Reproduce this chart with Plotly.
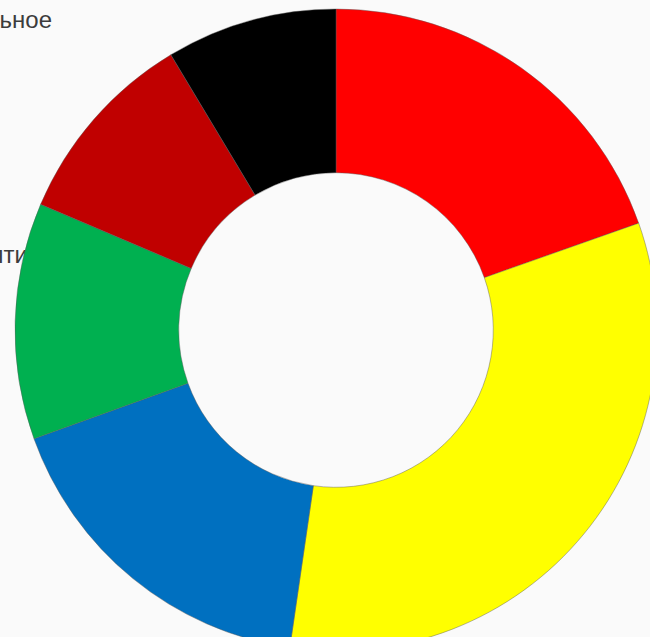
import plotly.graph_objects as go

# Survey answer shares, clockwise from 12 o'clock
answers = ["Положительное", "Скорее положительное", "Скорее отрицательное",
           "Нет понятия", "Безразличное", "Отрицательное"]
shares = [19.6, 32.7, 17.2, 11.9, 10.0, 8.6]
colors = ["#FF0000", "#FFFF00", "#0070C0", "#00B050", "#C00000", "#000000"]

# Side captions (partly off-canvas on the left)
side_labels = ["Отрицательное", "Нет понятия"]
side_x = [52, 41]
side_y = [22, 257]

W, H = 700, 700
cx, cy, r = 336, 330, 321

fig = go.Figure()

# captions sit on a hidden pixel-scaled axis so the pie draws over them
fig.add_trace(go.Scatter(
    x=side_x, y=side_y, mode="text", text=side_labels,
    textposition="middle left",
    textfont=dict(family="Liberation Sans, Arial, sans-serif", size=24, color="#3c3c3c"),
    hoverinfo="skip", showlegend=False,
))

fig.add_trace(go.Pie(
    labels=answers, values=shares, sort=False, direction="clockwise", rotation=0,
    hole=0.49,
    marker=dict(colors=colors, line=dict(color="rgba(90,90,90,0.55)", width=0.8)),
    textinfo="none", hoverinfo="label+percent", showlegend=False,
    domain=dict(x=[(cx - r) / W, (cx + r) / W], y=[(H - cy - r) / H, (H - cy + r) / H]),
))

fig.update_layout(
    width=W, height=H, margin=dict(l=0, r=0, t=0, b=0),
    paper_bgcolor="#fafafa", plot_bgcolor="rgba(0,0,0,0)",
    xaxis=dict(range=[0, W], visible=False, domain=[0, 1]),
    yaxis=dict(range=[H, 0], visible=False, domain=[0, 1]),
    showlegend=False,
)

fig.write_html(
    "out.html",
    post_script="document.documentElement.style.overflow='hidden';document.body.style.overflow='hidden';document.body.style.margin='0';",
)
